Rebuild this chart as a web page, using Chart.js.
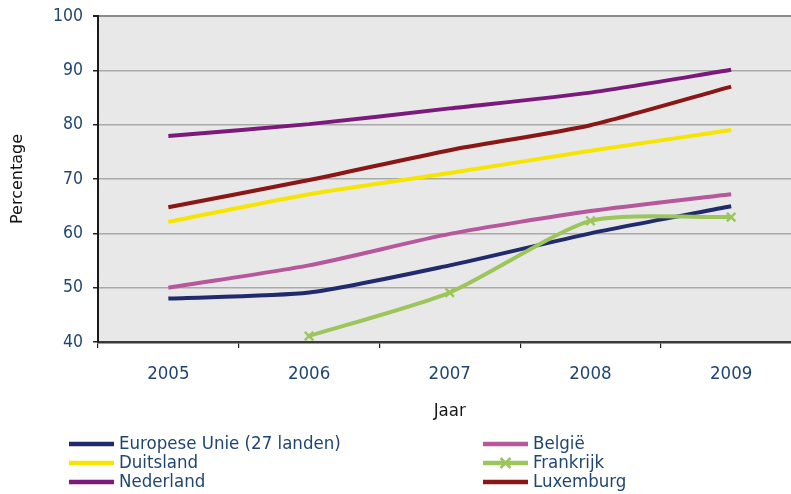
<!DOCTYPE html>
<html>
<head>
<meta charset="utf-8">
<script src="https://cdn.jsdelivr.net/npm/chart.js@4.4.1/dist/chart.umd.min.js"></script>
<style>
  html, body { margin: 0; padding: 0; background: #ffffff; overflow: hidden; width: 791px; height: 494px; }
  #wrap { position: absolute; left: 0; top: 0; width: 810px; height: 494px; }
  #legend { position: absolute; left: 0; top: 0; width: 791px; height: 494px; pointer-events: none;
            font-family: 'DejaVu Sans Condensed', 'DejaVu Sans', sans-serif; font-size: 18.5px; color: #1f4573; }
  .lg-item { position: absolute; height: 20px; white-space: nowrap; }
  .lg-item svg { position: absolute; left: 0; top: 0; }
  .lg-item span { position: absolute; top: -1px; line-height: 20px; }
</style>
</head>
<body>
<div id="wrap"><canvas id="chart" width="810" height="494"></canvas></div>
<div id="legend"></div>
<script>
// ---- data ----
const years = ['2005', '2006', '2007', '2008', '2009'];
const euValues        = [48.0, 49.1, 54.1, 60.0, 65.0];
const belgieValues    = [50.0, 54.1, 59.9, 64.1, 67.2];
const duitslandValues = [62.1, 67.2, 71.1, 75.2, 79.0];
const frankrijkValues = [null, 41.1, 49.1, 62.3, 63.0];
const nederlandValues = [77.9, 80.1, 83.0, 85.9, 90.1];
const luxemburgValues = [64.8, 69.8, 75.3, 79.9, 87.0];
const seriesNames = ['Europese Unie (27 landen)', 'België', 'Duitsland', 'Frankrijk', 'Nederland', 'Luxemburg'];
const yTickValues = [40, 50, 60, 70, 80, 90, 100];
const xTitle = 'Jaar';
const yTitle = 'Percentage';

// ---- styles ----
const colors = ['#212a6c', '#b6589b', '#f6e500', '#9cc55c', '#7b1a7b', '#8a1616'];
const seriesValues = [euValues, belgieValues, duitslandValues, frankrijkValues, nederlandValues, luxemburgValues];
const tickColor = '#1f4573';
const condFont = "'DejaVu Sans Condensed', 'DejaVu Sans', sans-serif";

const datasets = seriesNames.map((name, i) => {
  const isFr = name === 'Frankrijk';
  return {
    label: name,
    data: seriesValues[i],
    borderColor: colors[i],
    backgroundColor: colors[i],
    borderWidth: 4,
    tension: 0.22,
    fill: false,
    spanGaps: false,
    pointStyle: isFr ? 'crossRot' : 'circle',
    pointRadius: isFr ? 6 : 0,
    pointHoverRadius: isFr ? 6 : 0,
    pointBorderWidth: isFr ? 2.5 : 0,
    pointBorderColor: colors[i],
    order: [6, 5, 4, 1, 3, 2][i]
  };
});

const bgPlugin = {
  id: 'plotBg',
  beforeDraw(chart) {
    const { ctx, chartArea: a } = chart;
    ctx.save();
    ctx.fillStyle = '#e8e8e8';
    ctx.fillRect(a.left, a.top, a.right - a.left, a.bottom - a.top);
    ctx.restore();
  }
};

new Chart(document.getElementById('chart'), {
  type: 'line',
  data: { labels: years, datasets: datasets },
  plugins: [bgPlugin],
  options: {
    responsive: false,
    animation: false,
    layout: { padding: { top: 16, right: 2, bottom: 0, left: 0 } },
    plugins: { legend: { display: false }, tooltip: { enabled: false } },
    scales: {
      x: {
        type: 'category',
        offset: true,
        grid: { display: true, drawOnChartArea: false, drawTicks: true, tickLength: 6, offset: true,
                color: '#222222', lineWidth: 1.2 },
        border: { display: true, color: '#3a3a3a', width: 2.5 },
        ticks: { color: tickColor, font: { family: condFont, size: 18.5 }, padding: 15, maxRotation: 0 },
        title: { display: true, text: xTitle, color: '#1a1a1a', font: { family: condFont, size: 18.5 },
                 padding: { top: 0, bottom: 72 } },
        afterFit(scale) { scale.height = 152; }
      },
      y: {
        min: 40, max: 100,
        afterBuildTicks(scale) { scale.ticks = yTickValues.map(v => ({ value: v })); },
        grid: {
          color: ctx => (ctx.tick && ctx.tick.value === 100) ? '#8c8c8c' : '#a9a9a9',
          lineWidth: ctx => (ctx.tick && ctx.tick.value === 100) ? 2 : 1.5,
          tickColor: '#222222', tickLength: 5, drawTicks: true
        },
        border: { display: true, color: '#1a1a1a', width: 2 },
        ticks: { color: tickColor, font: { family: condFont, size: 17.5 }, padding: 10 },
        title: { display: true, text: yTitle, color: '#111111', font: { family: "'DejaVu Sans', sans-serif", size: 16 },
                 padding: { top: 8, bottom: 0 } },
        afterFit(scale) { scale.width = 98; scale.paddingTop = 0; scale.paddingBottom = 0; }
      }
    }
  }
});

// ---- legend (HTML, built from the series) ----
const legendSlots = [
  [69, 444], [483, 444],
  [69, 463], [483, 463],
  [69, 482], [483, 482]
];
const legendEl = document.getElementById('legend');
seriesNames.forEach((name, i) => {
  const [x, y] = legendSlots[i];
  const item = document.createElement('div');
  item.className = 'lg-item';
  item.style.left = x + 'px';
  item.style.top = (y - 10) + 'px';
  let svg = '<svg width="46" height="20" xmlns="http://www.w3.org/2000/svg">' +
            '<line x1="0" y1="10" x2="45" y2="10" stroke="' + colors[i] + '" stroke-width="4.5"/>';
  if (name === 'Frankrijk') {
    svg += '<line x1="17.5" y1="5" x2="27.5" y2="15" stroke="' + colors[i] + '" stroke-width="2.5"/>' +
           '<line x1="17.5" y1="15" x2="27.5" y2="5" stroke="' + colors[i] + '" stroke-width="2.5"/>';
  }
  svg += '</svg>';
  item.innerHTML = svg + '<span style="left:50px">' + name + '</span>';
  legendEl.appendChild(item);
});
</script>
</body>
</html>
